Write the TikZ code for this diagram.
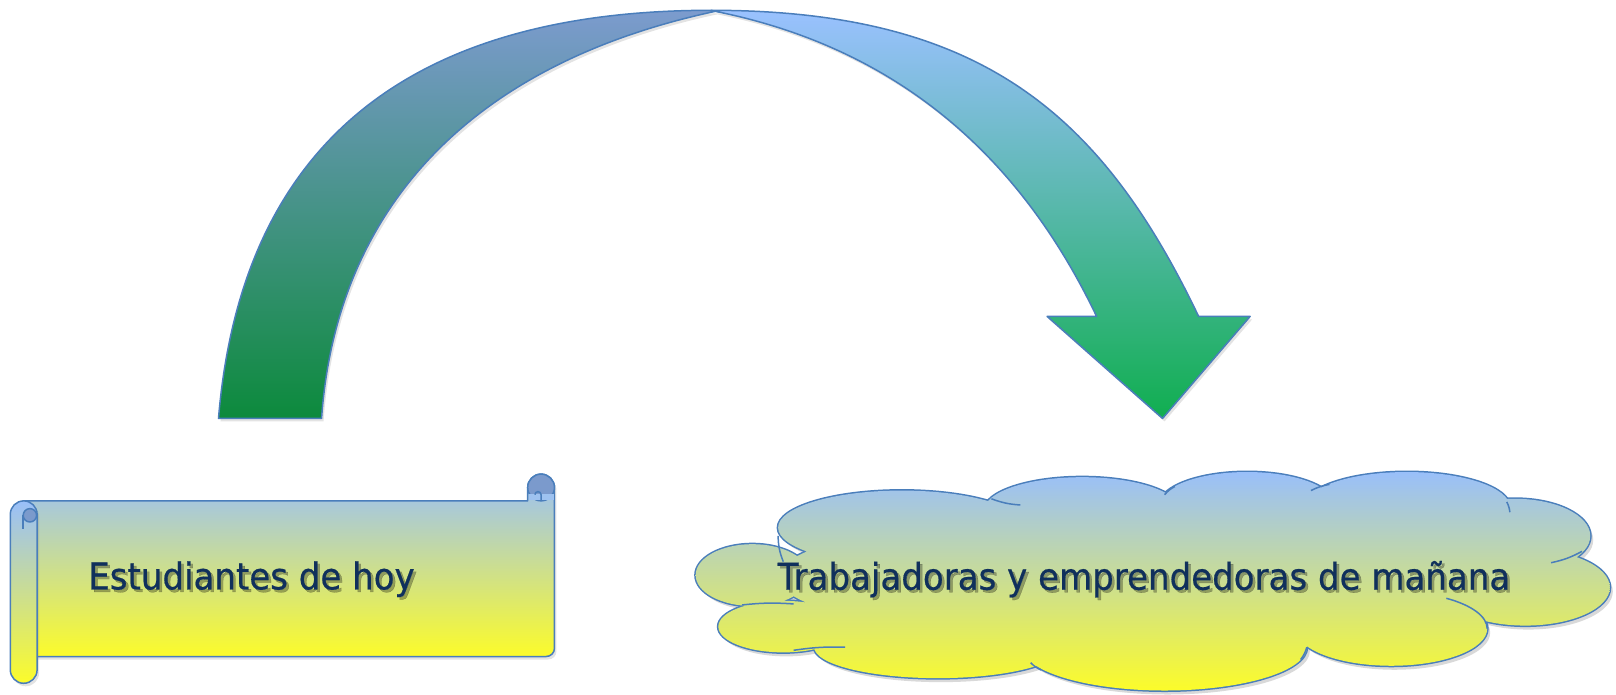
\documentclass[tikz,border=0pt]{standalone}
\usepackage{fontspec}
\setmainfont{DejaVu Sans}
\newfontfamily\comicfont[FakeStretch=0.92,FakeBold=0.5]{DejaVu Sans}
\usetikzlibrary{shadows}

\definecolor{edge}{HTML}{4A7EBB}
\definecolor{ink}{HTML}{10305C}
\definecolor{skyblue}{HTML}{99BFFA}
\definecolor{sunyellow}{HTML}{FCFC2A}
\definecolor{darkband}{HTML}{7C9BCE}
\definecolor{lightband}{HTML}{9AC1FF}
\definecolor{deepgreen}{HTML}{0C8A3C}
\definecolor{brightgreen}{HTML}{10AE50}
\definecolor{curl}{HTML}{7B9ACC}

\def\puffs{875/182/120/36, 1050/199/95/32, 1210/204/85/32, 1365/202/100/34,
  1470/174/73/36, 1480/124/82/37, 1350/84/93/36, 1130/66/138/42,
  910/66/120/30, 760/86/63/25, 730/136/55/30, 850/100/60/20, 1110/134/355/64}

\begin{document}
\begin{tikzpicture}[x=1.0306pt,y=1.0306pt,
    outline/.style={draw=edge, line width=1.5pt, line join=round},
    sky/.style={top color=skyblue, bottom color=sunyellow},
    soft/.style={drop shadow={shadow xshift=2pt, shadow yshift=-3pt, opacity=0.22}},
    label/.style={font=\comicfont\fontsize{37}{40}\selectfont, text=ink},
    ghost/.style={font=\comicfont\fontsize{37}{40}\selectfont, text=black, opacity=0.3}]
  \useasboundingbox (0,20.6) rectangle (1568,694);

  % curved arrow
  \coordinate (footout) at (212,288);
  \coordinate (footin) at (312,288);
  \coordinate (cross) at (694,683);
  \coordinate (tip) at (1128,288);
  \shade[outline, soft, top color=darkband, bottom color=deepgreen]
    (footout) .. controls (233.6,548) and (390,684) .. (690,684) -- (cross)
    .. controls (452.5,631.2) and (326,488) .. (footin) -- cycle;
  \shade[outline, soft, top color=lightband, bottom color=brightgreen]
    (690,684) .. controls (950,684) and (1068.4,585) .. (1163,387)
    -- (1213,387) -- (tip) -- (1016,387) -- (1064,387)
    .. controls (990.9,540) and (873.4,647) .. (cross) -- cycle;

  % scroll
  \shade[outline, soft, sky]
    (23,208) -- (512,208) -- (512,221) arc[start angle=180, end angle=0, radius=13]
    -- (538,65) arc[start angle=0, end angle=-90, radius=8] -- (23,57) -- cycle;
  \draw[outline, fill=curl] (525,221) circle (13);
  \fill[skyblue!95!sunyellow] (512.8,208.8) rectangle (537.2,215);
  \draw[outline] (512,215) -- (512,208) (538,215) -- (538,208);
  \draw[outline] (525,208) -- (525,214) arc[start angle=0, end angle=180, radius=3];
  \shade[outline, soft, sky]
    (10,195) -- (10,44) arc[start angle=180, end angle=360, radius=13]
    -- (36,195) arc[start angle=0, end angle=180, radius=13] -- cycle;
  \draw[outline, fill=curl] (29,194) circle (6.5);
  \draw[outline] (22.5,194) -- (22.5,181);

  % cloud
  \fill[black, opacity=0.15, xshift=3pt, yshift=-4pt]
    \foreach \cx/\cy/\rx/\ry in \puffs {(\cx,\cy) ellipse[x radius=\rx, y radius=\ry]};
  \foreach \cx/\cy/\rx/\ry in \puffs
    \draw[edge, line width=3pt] (\cx,\cy) ellipse[x radius=\rx, y radius=\ry];
  \shade[sky]
    \foreach \cx/\cy/\rx/\ry in \puffs {(\cx,\cy) ellipse[x radius=\rx, y radius=\ry]};
  \draw[outline] (962,210) to[bend right=8] (990,204);
  \draw[outline] (1130,214) to[bend left=10] (1140,222);
  \draw[outline] (1272,218) to[bend left=8] (1290,224);
  \draw[outline] (1462,207) to[bend left=10] (1465,197);
  \draw[outline] (1505,148) to[bend right=8] (1535,159);
  \draw[outline] (1443,84) arc[start angle=0, end angle=55, x radius=93, y radius=36];
  \draw[outline] (1268,66) to[bend left=10] (1262,54);
  \draw[outline] (1000,51) to[bend right=10] (1010,44);
  \draw[outline] (770,63) to[bend left=5] (820,66);
  \draw[outline] (720,107) to[bend left=5] (770,108);
  \draw[outline] (755,174) to[bend right=10] (760,149);

  % labels
  \node[ghost] at (246.5,129.5) {Estudiantes de hoy};
  \node[label] (hoy) at (244,132) {Estudiantes de hoy};
  \node[ghost] at (1112.5,129.5) {Trabajadoras y emprendedoras de mañana};
  \node[label] (manana) at (1110,132) {Trabajadoras y emprendedoras de mañana};
\end{tikzpicture}
\end{document}
